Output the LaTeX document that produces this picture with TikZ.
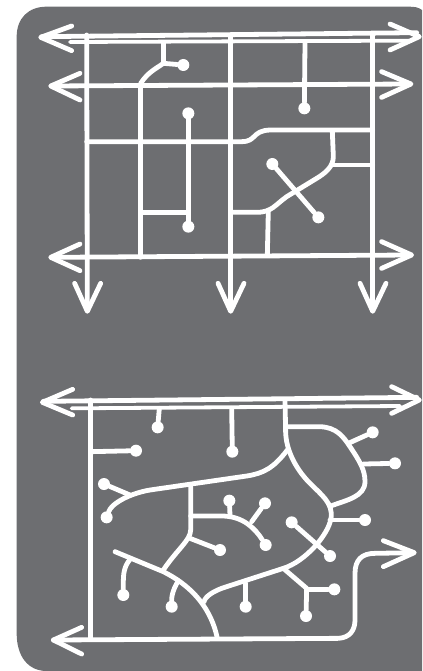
\documentclass[tikz,border=0pt]{standalone}
\definecolor{slategray}{HTML}{6D6E71}
\tikzset{
  road/.style={white, line width=4.8pt, line cap=round, line join=round},
  culdesac/.style={fill=white, inner sep=0pt, minimum size=12pt, circle}
}

\begin{document}
\begin{tikzpicture}[x=0.33333pt, y=-0.33333pt]
\useasboundingbox (0,0) rectangle (1266,2013);

% Background
\fill[slategray] (1266,30) .. controls (1255,22) and (1245,20) .. (1225,20)
  -- (140,20) .. controls (85,20) and (50,55) .. (50,110)
  -- (50,1900) .. controls (50,1970) and (85,2013) .. (140,2013)
  -- (1266,2013) -- cycle;

% ================================================================
% TOP PANEL: Street grid
% ================================================================

% Cul-de-sac ends
\node[culdesac] (gridA) at (550,195) {};
\node[culdesac] (gridB) at (913,325) {};
\node[culdesac] (gridC) at (565,340) {};
\node[culdesac] (gridD) at (565,680) {};
\node[culdesac] (gridE) at (817,492) {};
\node[culdesac] (gridF) at (955,652) {};

% Double road along the top
\draw[road] (125,110) -- (1250,98);
\draw[road, line width=3.8pt] (210,126) -- (1225,122);
\draw[road] (215,78) -- (122,112) -- (215,152);
\draw[road] (1170,72) -- (1258,110) -- (1170,150);

% Cross roads
\draw[road] (155,258) -- (1230,252);
\draw[road] (240,220) -- (152,258) -- (240,300);
\draw[road] (1145,215) -- (1233,252) -- (1145,292);

\draw[road] (155,772) -- (1230,765);
\draw[road] (240,732) -- (152,772) -- (240,812);
\draw[road] (1145,725) -- (1235,765) -- (1145,805);

% Roads running down
\foreach \xa/\xb in {260/262, 692/692, 1118/1118} {
  \draw[road] (\xa,105) -- (\xb,932);
  \draw[road] (\xb-38,850) -- (\xb,934) -- (\xb+40,850);
}

% Local streets
\draw[road] (422,258) -- (422,772);
\draw[road] (490,130) -- (490,190);
\draw[road] (422,250) .. controls (445,215) and (470,205) .. (490,190) -- (gridA);
\draw[road] (260,425) -- (725,425) .. controls (770,425) and (755,392) .. (810,390) -- (1118,390);
\draw[road] (997,395) -- (1000,470) .. controls (1000,500) and (975,520) .. (950,535)
  -- (860,590) .. controls (825,615) and (815,637) .. (770,637) -- (692,637);
\draw[road] (805,630) -- (802,765);
\draw[road] (1000,495) -- (1118,495);
\draw[road] (915,130) -- (gridB);
\draw[road] (gridC) -- (gridD);
\draw[road] (422,637) -- (565,637);
\draw[road] (gridE) -- (gridF);

% ================================================================
% BOTTOM PANEL: Curving streets
% ================================================================
\begin{scope}[yshift=-340pt]

% Cul-de-sac ends
\node[culdesac] (loopA) at (473,262) {};
\node[culdesac] (loopB) at (697,335) {};
\node[culdesac] (loopC) at (408,332) {};
\node[culdesac] (loopD) at (320,532) {};
\node[culdesac] (loopE) at (312,432) {};
\node[culdesac] (loopF) at (1118,277) {};
\node[culdesac] (loopG) at (1185,370) {};
\node[culdesac] (loopH) at (1095,540) {};
\node[culdesac] (loopI) at (797,615) {};
\node[culdesac] (loopJ) at (688,482) {};
\node[culdesac] (loopK) at (795,490) {};
\node[culdesac] (loopL) at (660,630) {};
\node[culdesac] (loopM) at (370,765) {};
\node[culdesac] (loopN) at (515,800) {};
\node[culdesac] (loopO) at (737,800) {};
\node[culdesac] (loopP) at (918,828) {};
\node[culdesac] (loopQ) at (1003,748) {};
\node[culdesac] (loopR) at (875,547) {};
\node[culdesac] (loopS) at (990,648) {};

% Double road along the top
\draw[road] (130,184) -- (1250,172);
\draw[road, line width=3.8pt] (215,205) -- (1200,198);
\draw[road] (218,148) -- (127,187) -- (218,225);
\draw[road] (1175,140) -- (1258,180) -- (1175,220);

% Edge road
\draw[road] (272,180) -- (272,898);
\draw[road] (245,862) -- (160,900) -- (245,942);
\draw[road] (160,900) -- (1015,895) .. controls (1050,893) and (1065,870) .. (1065,840)
  -- (1065,700) .. controls (1065,660) and (1085,640) .. (1125,640) -- (1240,638);
\draw[road] (1150,602) -- (1243,638) -- (1150,680);

% Stubs off the edge road
\draw[road] (478,205) -- (loopA);
\draw[road] (695,205) -- (loopB);
\draw[road] (272,335) -- (loopC);

% Main loop
\draw[road] (855,180) -- (857,280)
  .. controls (860,340) and (895,395) .. (930,430)
  .. controls (965,465) and (1000,490) .. (993,535)
  .. controls (985,585) and (915,665) .. (850,685)
  -- (680,740) .. controls (640,752) and (615,770) .. (612,785);
\draw[road] (862,330) .. controls (820,385) and (790,400) .. (740,408)
  -- (450,450) .. controls (390,460) and (335,490) .. (loopD);
\draw[road] (loopE) -- (390,465);
\draw[road] (865,260) -- (960,260) .. controls (1010,262) and (1030,290) .. (1050,320)
  .. controls (1080,365) and (1095,390) .. (1095,425)
  .. controls (1095,470) and (1040,480) .. (995,497);
\draw[road] (1045,310) -- (loopF);
\draw[road] (1090,372) -- (loopG);
\draw[road] (990,540) -- (loopH);

% Inner streets
\draw[road] (572,440) -- (572,570) .. controls (572,600) and (530,630) .. (490,690);
\draw[road] (572,528) -- (670,528) .. controls (730,530) and (765,565) .. (loopI);
\draw[road] (loopJ) -- (690,525);
\draw[road] (loopK) -- (755,545);
\draw[road] (570,595) -- (loopL);
\draw[road] (345,635) -- (490,695) .. controls (560,730) and (630,790) .. (652,895);
\draw[road] (390,658) .. controls (368,685) and (370,710) .. (loopM);
\draw[road] (535,722) .. controls (515,755) and (515,775) .. (loopN);
\draw[road] (737,730) -- (loopO);
\draw[road] (850,685) -- (920,745) -- (loopP);
\draw[road] (920,748) -- (loopQ);
\draw[road] (loopR) -- (loopS);

\end{scope}
\end{tikzpicture}
\end{document}
